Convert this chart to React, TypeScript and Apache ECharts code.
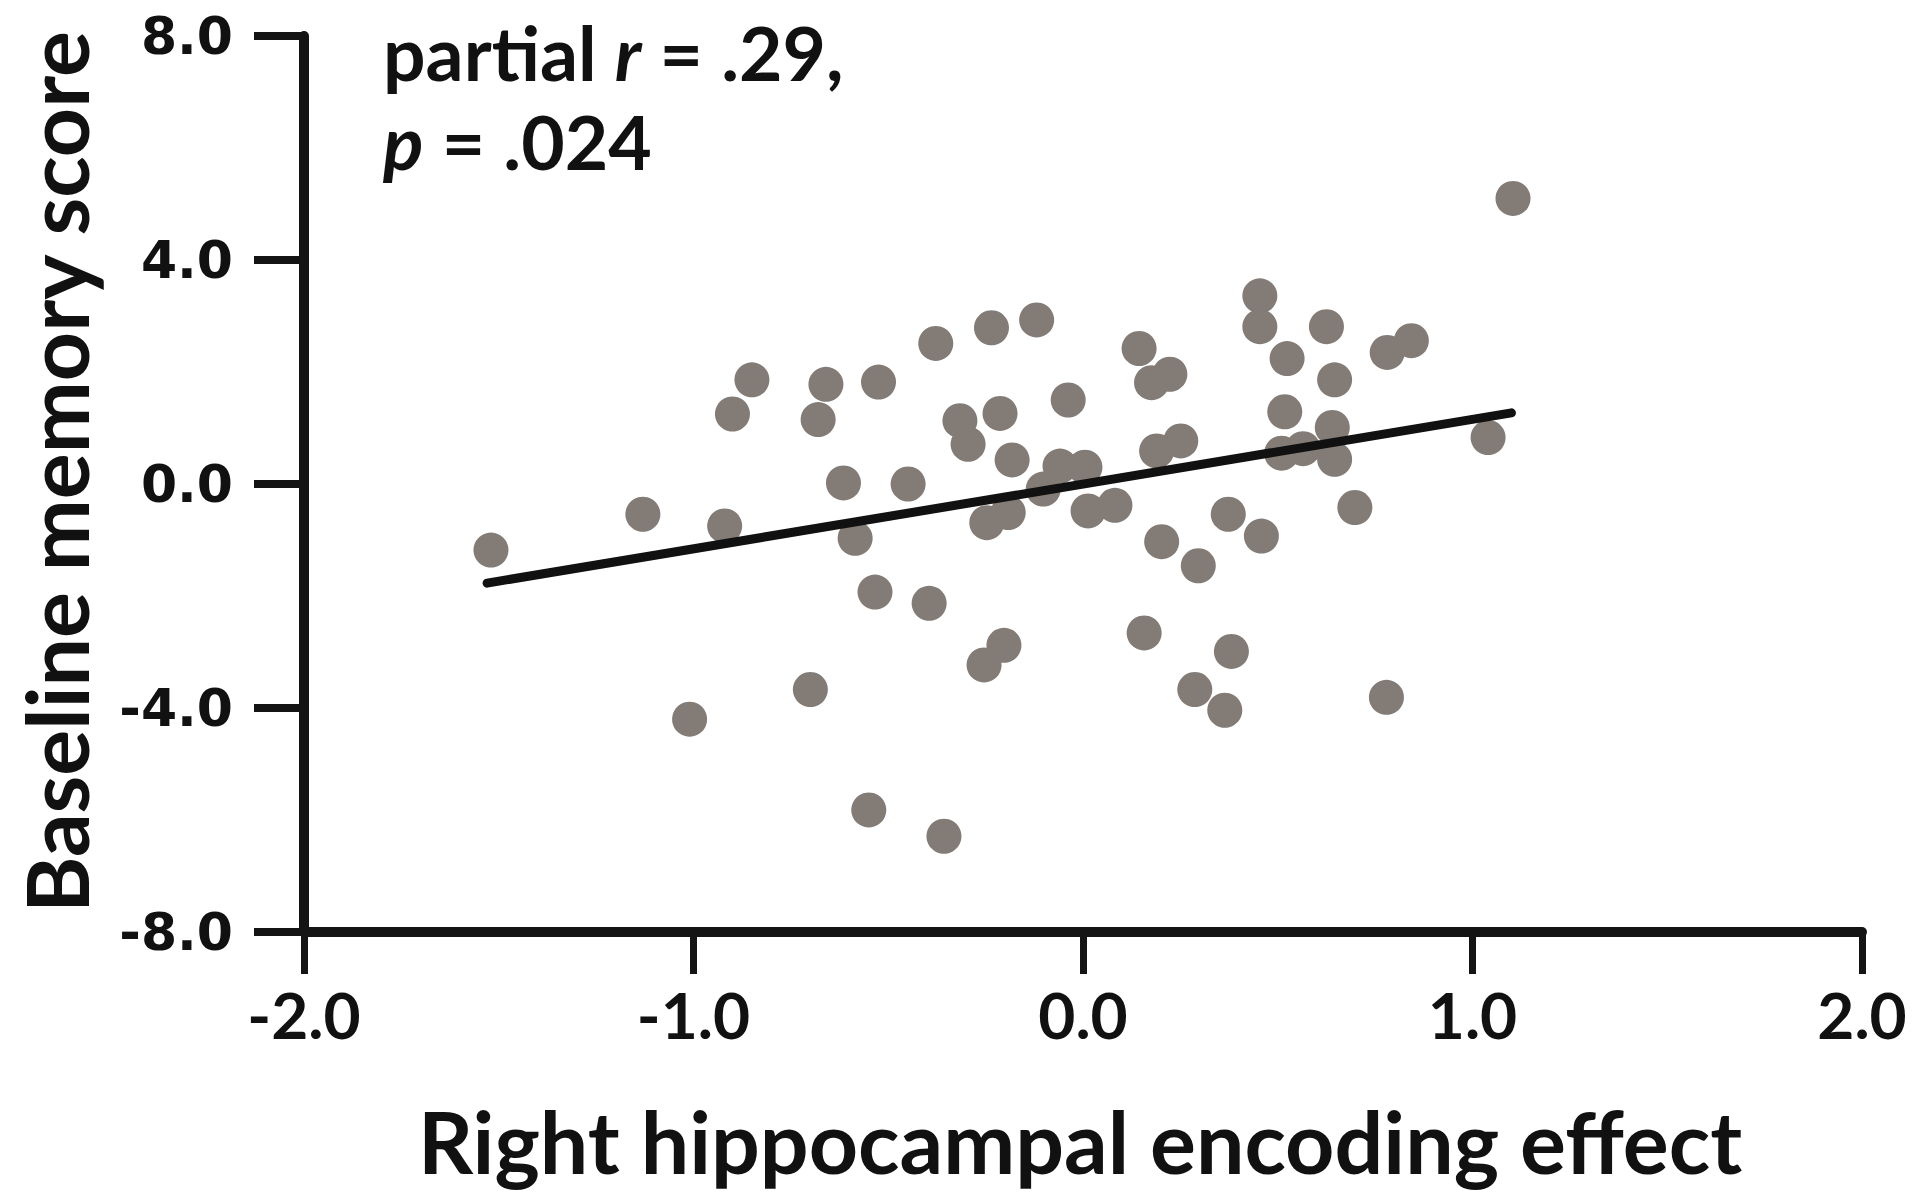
import React, { useEffect, useRef } from "react";
import * as echarts from "echarts";

// Right hippocampal encoding effect (x) and baseline memory score (y), one entry per participant
const encodingEffect = [
  -1.52, -1.13, -1.01, -0.92, -0.9, -0.85, -0.7, -0.68, -0.66, -0.615,
  -0.585, -0.55, -0.534, -0.525, -0.449, -0.395, -0.378, -0.357, -0.316, -0.295,
  -0.254, -0.247, -0.235, -0.213, -0.203, -0.192, -0.182, -0.119, -0.102, -0.059,
  -0.038, 0.005, 0.013, 0.082, 0.144, 0.157, 0.176, 0.189, 0.202, 0.223,
  0.251, 0.296, 0.287, 0.373, 0.364, 0.381, 0.454, 0.454, 0.458, 0.524,
  0.518, 0.51, 0.565, 0.625, 0.646, 0.64, 0.646, 0.698, 0.781, 0.779,
  0.843, 1.04, 1.104,
];
const memoryScore = [
  -1.18, -0.54, -4.2, -0.75, 1.25, 1.86, -3.67, 1.15, 1.78, 0.02,
  -0.97, -5.82, -1.93, 1.82, 0.0, -2.13, 2.51, -6.29, 1.13, 0.71,
  -3.23, -0.69, 2.79, 1.26, -2.88, -0.51, 0.43, 2.93, -0.09, 0.32,
  1.5, 0.3, -0.48, -0.38, 2.42, -2.66, 1.81, 0.59, -1.03, 1.96,
  0.77, -1.46, -3.67, -0.54, -4.04, -2.99, 3.36, 2.81, -0.93, 2.24,
  1.29, 0.55, 0.63, 2.81, 1.86, 1.01, 0.44, -0.42, 2.35, -3.81,
  2.56, 0.83, 5.1,
];
// Regression line end points
const fitX = [-1.53, 1.1];
const fitY = [-1.77, 1.27];

const xTitle = "Right hippocampal encoding effect";
const yTitle = "Baseline memory score";
const statLine1 = ["partial ", "r", " = .29,"];
const statLine2 = ["p", " = .024"];

export default function App() {
  const ref = useRef<HTMLDivElement>(null);
  useEffect(() => {
    if (!ref.current) return;
    const chart = echarts.init(ref.current, null, { renderer: "svg" });
    const points = encodingEffect.map((x, i) => [x, memoryScore[i]]);
    const fit = fitX.map((x, i) => [x, fitY[i]]);
    const axisColor = "#141414";
    chart.setOption({
      animation: false,
      backgroundColor: "#ffffff",
      grid: { left: 304, right: 58, top: 36, bottom: 267, containLabel: false },
      xAxis: {
        type: "value",
        min: -2,
        max: 2,
        interval: 1,
        splitLine: { show: false },
        axisLine: { show: true, onZero: false, lineStyle: { color: axisColor, width: 10 } },
        axisTick: { show: true, length: 42, lineStyle: { color: axisColor, width: 7 } },
        axisLabel: {
          margin: 50,
          color: "#111",
          fontFamily: "Lato",
          fontWeight: "bold",
          fontSize: 64,
          lineHeight: 64,
          formatter: (v: number) => v.toFixed(1),
        },
      },
      yAxis: {
        type: "value",
        min: -8,
        max: 8,
        interval: 4,
        splitLine: { show: false },
        axisLine: { show: true, onZero: false, lineStyle: { color: axisColor, width: 10 } },
        axisTick: { show: true, length: 50, lineStyle: { color: axisColor, width: 8 } },
        axisLabel: {
          margin: 71,
          color: "#111",
          fontFamily: "DejaVu Sans",
          fontWeight: "bold",
          fontSize: 52,
          formatter: (v: number) => v.toFixed(1),
        },
      },
      series: [
        {
          type: "scatter",
          data: points,
          symbol: "circle",
          symbolSize: 35,
          itemStyle: { color: "#837b75", opacity: 1 },
          z: 2,
        },
        {
          type: "line",
          data: fit,
          symbol: "none",
          lineStyle: { color: "#111", width: 9, cap: "round" },
          z: 3,
        },
      ],
      graphic: [
        {
          type: "text",
          x: 55,
          y: 472,
          rotation: Math.PI / 2,
          style: {
            text: yTitle,
            font: "bold 86px Lato",
            fill: "#111",
            align: "center",
            verticalAlign: "middle",
          },
        },
        {
          type: "text",
          x: 1080,
          y: 1140,
          style: {
            text: xTitle,
            font: "bold 86px Lato",
            fill: "#111",
            align: "center",
            verticalAlign: "middle",
          },
        },
        {
          type: "text",
          x: 383,
          y: 52,
          style: {
            text: `{n|${statLine1[0]}}{i|${statLine1[1]}}{n|${statLine1[2]}}`,
            align: "left",
            verticalAlign: "middle",
            rich: {
              n: { font: "bold 75px Lato", fill: "#111" },
              i: { font: "italic bold 75px Lato", fill: "#111" },
            },
          },
        },
        {
          type: "text",
          x: 383,
          y: 141,
          style: {
            text: `{i|${statLine2[0]}}{n|${statLine2[1]}}`,
            align: "left",
            verticalAlign: "middle",
            rich: {
              n: { font: "bold 75px Lato", fill: "#111" },
              i: { font: "italic bold 75px Lato", fill: "#111" },
            },
          },
        },
      ],
    });
    return () => chart.dispose();
  }, []);
  return (
    <div
      ref={ref}
      style={{ position: "absolute", left: 0, top: 0, width: 1920, height: 1199, background: "#fff" }}
    />
  );
}
